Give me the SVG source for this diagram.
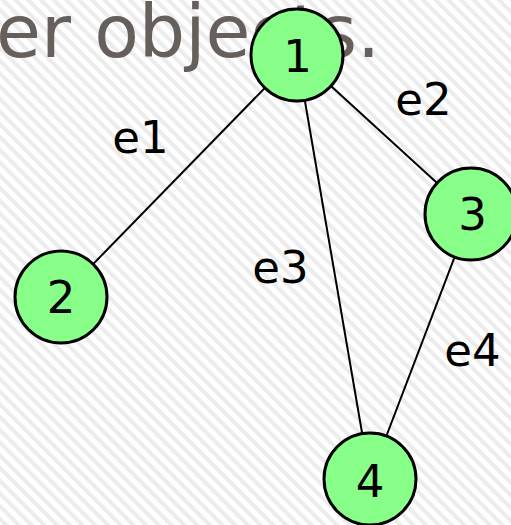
<svg xmlns="http://www.w3.org/2000/svg" width="511" height="525" viewBox="0 0 511 525">
<style>
.node circle{fill:#88ff88;stroke:#000;stroke-width:3}
.node text{font-family:"DejaVu Sans",sans-serif;font-size:45px;fill:#000;text-anchor:middle}
.elabel{font-family:"DejaVu Sans",sans-serif;font-size:45px;fill:#000;text-anchor:middle}
#edges line{stroke:#000;stroke-width:2}
</style>
<defs>
<pattern id="hatch" width="9" height="9" patternUnits="userSpaceOnUse" patternTransform="rotate(-45)">
<rect width="9" height="9" fill="#fff"/>
<rect width="4" height="9" fill="#ececec"/>
</pattern>
</defs>
<rect width="511" height="525" fill="url(#hatch)"/>
<text x="-4" y="57" font-family="DejaVu Sans, sans-serif" font-size="73" fill="#675f5b">er objects.</text>
<g id="edges">
<line x1="297" y1="55" x2="61" y2="297"/>
<line x1="297" y1="55" x2="471" y2="214"/>
<line x1="297" y1="55" x2="370" y2="479"/>
<line x1="471" y1="214" x2="370" y2="479"/>
<text class="elabel" x="140.5" y="153">e1</text>
<text class="elabel" x="423.5" y="115">e2</text>
<text class="elabel" x="280.5" y="283">e3</text>
<text class="elabel" x="472.5" y="366">e4</text>
</g>
<g id="node1" class="node"><circle cx="297" cy="55" r="46"/><text x="297.5" y="72">1</text></g>
<g id="node2" class="node"><circle cx="61" cy="297" r="46"/><text x="61" y="313">2</text></g>
<g id="node3" class="node"><circle cx="471" cy="214" r="46"/><text x="472.5" y="230">3</text></g>
<g id="node4" class="node"><circle cx="370" cy="479" r="46"/><text x="370" y="497">4</text></g>
</svg>
